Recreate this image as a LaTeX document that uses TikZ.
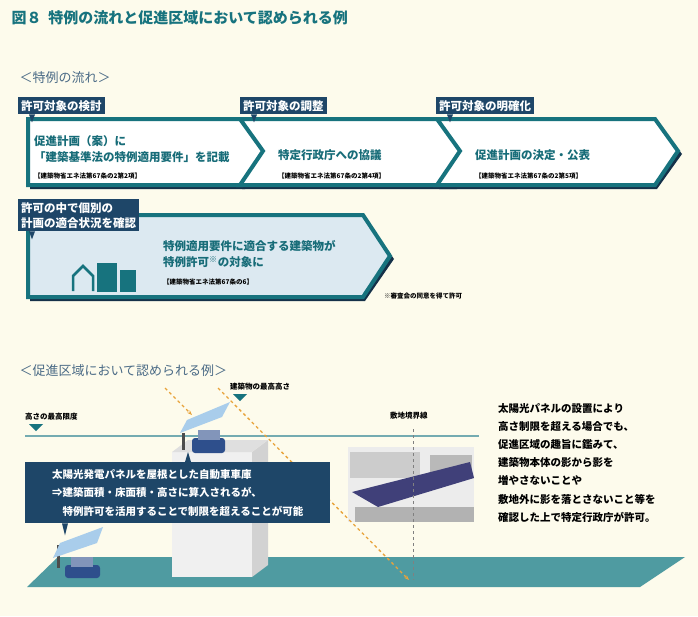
\documentclass[tikz,border=0pt]{standalone}
\usepackage{fontspec}
\setmainfont{Noto Sans CJK JP}
\usetikzlibrary{positioning,arrows.meta}
\definecolor{cream}{HTML}{FDFBEC}
\definecolor{navy}{HTML}{1E4668}
\definecolor{teal}{HTML}{17737E}
\definecolor{tealtext}{HTML}{176C78}
\definecolor{ground}{HTML}{4F9BA1}
\definecolor{paleblue}{HTML}{DCE9F1}
\definecolor{sunray}{HTML}{E8A33A}
\definecolor{panel}{HTML}{A9CDEB}
\definecolor{carblue}{HTML}{2E4F8C}
\tikzset{
  tab/.style={fill=navy,text=white,font=\bfseries\fontsize{11.5}{13}\selectfont,inner sep=3pt,anchor=north west,align=left},
  body/.style={text=tealtext,font=\bfseries\fontsize{11.5}{16}\selectfont,anchor=west,align=left,inner sep=0pt},
  law/.style={font=\bfseries\fontsize{6.5}{7}\selectfont,anchor=west,inner sep=0pt},
  lbl/.style={font=\bfseries\fontsize{7.5}{8}\selectfont,anchor=west,inner sep=0pt},
  chev/.style={draw=teal,line width=4pt,line join=miter,fill=white},
  note/.style={font=\bfseries\fontsize{10.5}{18.2}\selectfont,anchor=north west,align=left,inner sep=0pt},
  car/.style={fill=carblue,rounded corners=3pt},
}
\begin{document}
\begin{tikzpicture}[x=1pt,y=-1pt]
\fill[cream] (0,0) rectangle (698,616);
\useasboundingbox (0,0) rectangle (698,616);
% title
\node[anchor=west,text=teal,font=\bfseries\fontsize{15}{17}\selectfont] (title) at (8,18) {図８\ \ 特例の流れと促進区域において認められる例};
\node[anchor=west,text=navy!80,font=\fontsize{13}{15}\selectfont] (flow) at (16,78) {＜特例の流れ＞};
% chevrons
\fill[navy!70!black] (30,122)--(245,122)--(270,154)--(245,189)--(30,189)--cycle;
\draw[chev] (28,119)--(243,119)--(266,151)--(243,185)--(28,185)--cycle;
\fill[navy!70!black] (242,122)--(457,122)--(482,154)--(457,189)--(242,189)--(267,154)--cycle;
\draw[chev] (240,119)--(455,119)--(478,151)--(455,185)--(240,185)--(263,151)--cycle;
\fill[navy!70!black] (439,122)--(657,122)--(682,154)--(657,189)--(439,189)--(464,154)--cycle;
\draw[chev] (437,119)--(655,119)--(678,151)--(655,185)--(437,185)--(460,151)--cycle;
\fill[navy!70!black] (30,218)--(365,218)--(394,259)--(365,301)--(30,301)--cycle;
\draw[chev,fill=paleblue] (28,215)--(363,215)--(390,256)--(363,297)--(28,297)--cycle;
% tabs
\node[tab] (tabA) at (18,97) {許可対象の検討};
\node[tab] (tabB) at (240,97) {許可対象の調整};
\node[tab] (tabC) at (436,97) {許可対象の明確化};
\node[tab,font=\bfseries\fontsize{11.5}{15}\selectfont] (tabD) at (18,199) {許可の中で個別の\\計画の適合状況を確認};
\foreach \t in {tabA,tabB,tabC,tabD}
  \fill[navy] ([xshift=11pt]\t.south west) -- ++(6,0) -- ++(-3,8) -- cycle;
% chevron texts
\node[body] (stepA) at (34,149) {促進計画（案）に\\「建築基準法の特例適用要件」を記載};
\node[law] (lawA) at (34,176) {【建築物省エネ法第67条の2第2項】};
\node[body] (stepB) at (278,155) {特定行政庁への協議};
\node[law] (lawB) at (278,176) {【建築物省エネ法第67条の2第4項】};
\node[body] (stepC) at (475,155) {促進計画の決定・公表};
\node[law] (lawC) at (475,176) {【建築物省エネ法第67条の2第5項】};
\node[body] (stepD) at (163,254) {特例適用要件に適合する建築物が\\特例許可\textsuperscript{※}の対象に};
\node[law] (lawD) at (163,282) {【建築物省エネ法第67条の6】};
\node[law] (consent) at (384,296) {※審査会の同意を得て許可};
% buildings icon
\draw[teal,line width=2.5pt] (73,291)--(73,276)--(83,266)--(93,276)--(93,291);
\fill[teal] (97,263) rectangle (117,292);
\fill[teal] (120,270) rectangle (136,292);
% second part
\node[anchor=west,text=navy!80,font=\fontsize{13}{15}\selectfont] (zone) at (16,371) {＜促進区域において認められる例＞};
\fill[ground] (58,557)--(685,557)--(640,587)--(27,587)--cycle;
\draw[teal!60,line width=1.2pt] (25,436)--(479,436);
\node[lbl] (limit) at (25,417) {高さの最高限度};
\fill[teal] (29,424)--(43,424)--(36,431)--cycle;
\node[lbl] (maxh) at (230,387) {建築物の最高高さ};
\fill[teal] (233,394)--(247,394)--(240,401)--cycle;
% building
\fill[gray!12] (172,452) rectangle (252,577);
\fill[gray!35] (252,452)--(268,440)--(268,565)--(252,577)--cycle;
\fill[gray!25] (172,452)--(188,440)--(268,440)--(252,452)--cycle;
% panel and car on roof
\fill[gray!60!black] (182,433) rectangle (185,450);
\fill[panel] (180,433)--(187,420)--(230,402)--(222,417)--cycle;
\fill[car] (192,438) rectangle (225,453);
\fill[carblue!60] (198,430) rectangle (220,440);
% panel and car on ground
\fill[gray!60!black] (57,545) rectangle (60,568);
\fill[panel] (53,558)--(60,543)--(103,527)--(97,543)--cycle;
\fill[car] (65,565) rectangle (100,578);
\fill[carblue!60] (71,557) rectangle (93,567);
% photo
\fill[gray!15] (348,447) rectangle (474,522);
\fill[gray!40] (350,452) rectangle (420,478);
\fill[gray!55] (430,455) rectangle (472,472);
\fill[blue!30!black!75] (352,492)--(470,462)--(474,478)--(378,507)--cycle;
\fill[gray!60] (355,507) rectangle (474,522);
% sun rays
\draw[sunray,dashed,line width=1.3pt,-{Stealth[length=5pt]}] (165,388)--(192,415);
\draw[sunray,dashed,line width=1.3pt,-{Stealth[length=5pt]}] (218,388)--(409,580);
% boundary
\node[lbl] (bound) at (390,416) {敷地境界線};
\coordinate (btop) at (413,429);
\coordinate (bbot) at (413,580);
\draw[gray,dashed] (btop)--(bbot);
% callout
\node[fill=navy,text=white,anchor=north west,align=left,inner sep=5pt,font=\bfseries\fontsize{10.5}{18.5}\selectfont,minimum width=305pt,minimum height=61pt] (callout) at (25,462)
  {太陽光発電パネルを屋根とした自動車車庫\\⇒建築面積・床面積・高さに算入されるが、\\\quad 特例許可を活用することで制限を超えることが可能};
\fill[navy] ([xshift=160pt]callout.north west) -- ++(6,0) -- ++(-3,-10) -- cycle;
\fill[navy] ([xshift=37pt]callout.south west) -- ++(6,0) -- ++(-3,12) -- cycle;
% right text
\node[note] (desc) at (498,403) {太陽光パネルの設置により\\高さ制限を超える場合でも、\\促進区域の趣旨に鑑みて、\\建築物本体の影から影を\\増やさないことや\\敷地外に影を落とさないこと等を\\確認した上で特定行政庁が許可。};
\end{tikzpicture}
\end{document}
